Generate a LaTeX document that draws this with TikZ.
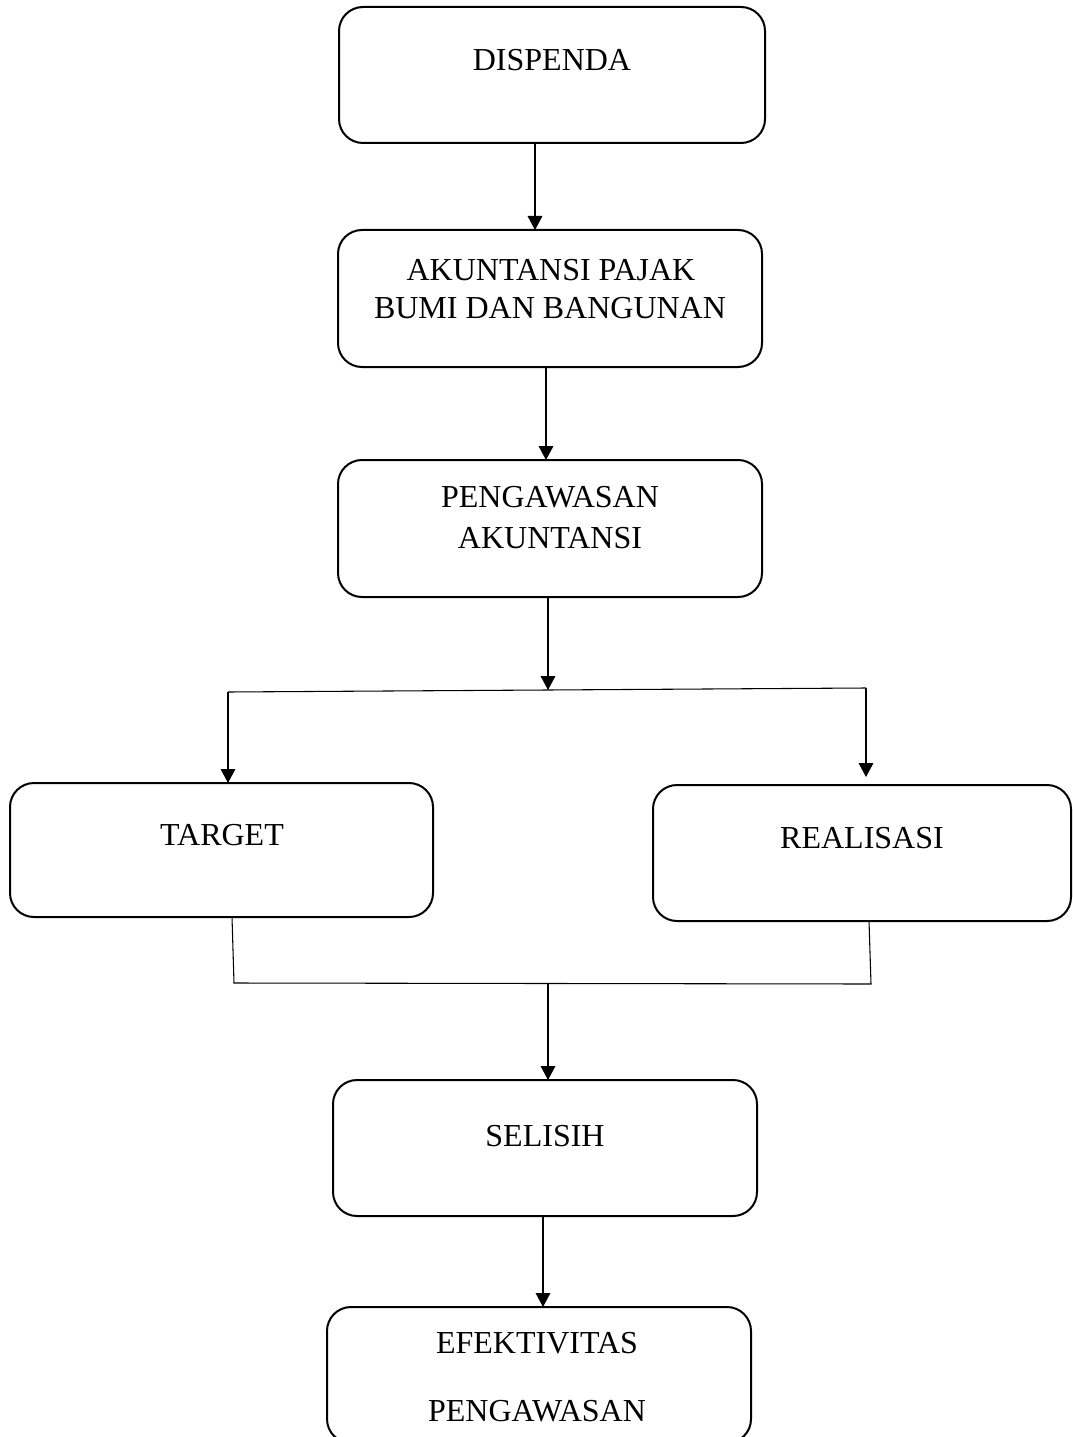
\documentclass[tikz,border=0pt]{standalone}
\usepackage{fontspec}
\setmainfont{Liberation Serif}
\usetikzlibrary{arrows.meta}
\begin{document}
\begin{tikzpicture}[x=0.75pt,y=-0.75pt,
  box/.style={draw,line width=1.5pt,rounded corners=18pt,inner sep=0pt,outer sep=0pt},
  txt/.style={font=\fontsize{24}{28}\selectfont,inner sep=0pt,text height=16pt,text depth=0pt},
  conn/.style={line width=0.8pt},
  arr/.style={conn,-{Triangle[length=10.5pt,width=11pt]}}]
\useasboundingbox (0,0) rectangle (1072,1437);
% boxes
\node[box,minimum width=426*0.75pt,minimum height=136*0.75pt] (b1) at (552,75) {};
\node[box,minimum width=424*0.75pt,minimum height=137*0.75pt] (b2) at (550,298.5) {};
\node[box,minimum width=424*0.75pt,minimum height=137*0.75pt] (b3) at (550,528.5) {};
\node[box,minimum width=423*0.75pt,minimum height=134*0.75pt] (b4) at (221.5,850) {};
\node[box,minimum width=418*0.75pt,minimum height=136*0.75pt] (b5) at (862,853) {};
\node[box,minimum width=424*0.75pt,minimum height=136*0.75pt] (b6) at (545,1148) {};
\node[box,minimum width=424*0.75pt,minimum height=136*0.75pt] (b7) at (539,1375) {};
% texts
\node[txt] (t1) at (552,60) {DISPENDA};
\node[txt] (t2a) at (551,270) {AKUNTANSI PAJAK};
\node[txt] (t2b) at (550,308) {BUMI DAN BANGUNAN};
\node[txt] (t3a) at (550,497) {PENGAWASAN};
\node[txt] (t3b) at (550,538) {AKUNTANSI};
\node[txt] (t4) at (222,835) {TARGET};
\node[txt] (t5) at (862,838) {REALISASI};
\node[txt] (t6) at (545,1136) {SELISIH};
\node[txt] (t7a) at (537,1343) {EFEKTIVITAS};
\node[txt] (t7b) at (537,1411) {PENGAWASAN};
% connectors
\draw[arr] (b1.south -| 535,0) -- (b2.north -| 535,0);
\draw[arr] (b2.south -| 546,0) -- (b3.north -| 546,0);
\coordinate (jc) at (548,690);
\coordinate (jl) at (228,692);
\coordinate (jr) at (866,688);
\coordinate (rtip) at (866,777);
\draw[arr] (b3.south -| 548,0) -- (jc);
\draw[conn] (jl) -- (jr);
\draw[arr] (jl) -- (b4.north -| jl);
\draw[arr] (jr) -- (rtip);
\coordinate (bl) at (234,983);
\coordinate (br) at (871,984);
\coordinate (bc) at (548,983.5);
\draw[conn] (b4.south -| 232,0) -- (bl) -- (br) -- (b5.south -| 869,0);
\draw[arr] (bc) -- (b6.north -| bc);
\draw[arr] (b6.south -| 543,0) -- (b7.north -| 543,0);
\end{tikzpicture}
\end{document}
